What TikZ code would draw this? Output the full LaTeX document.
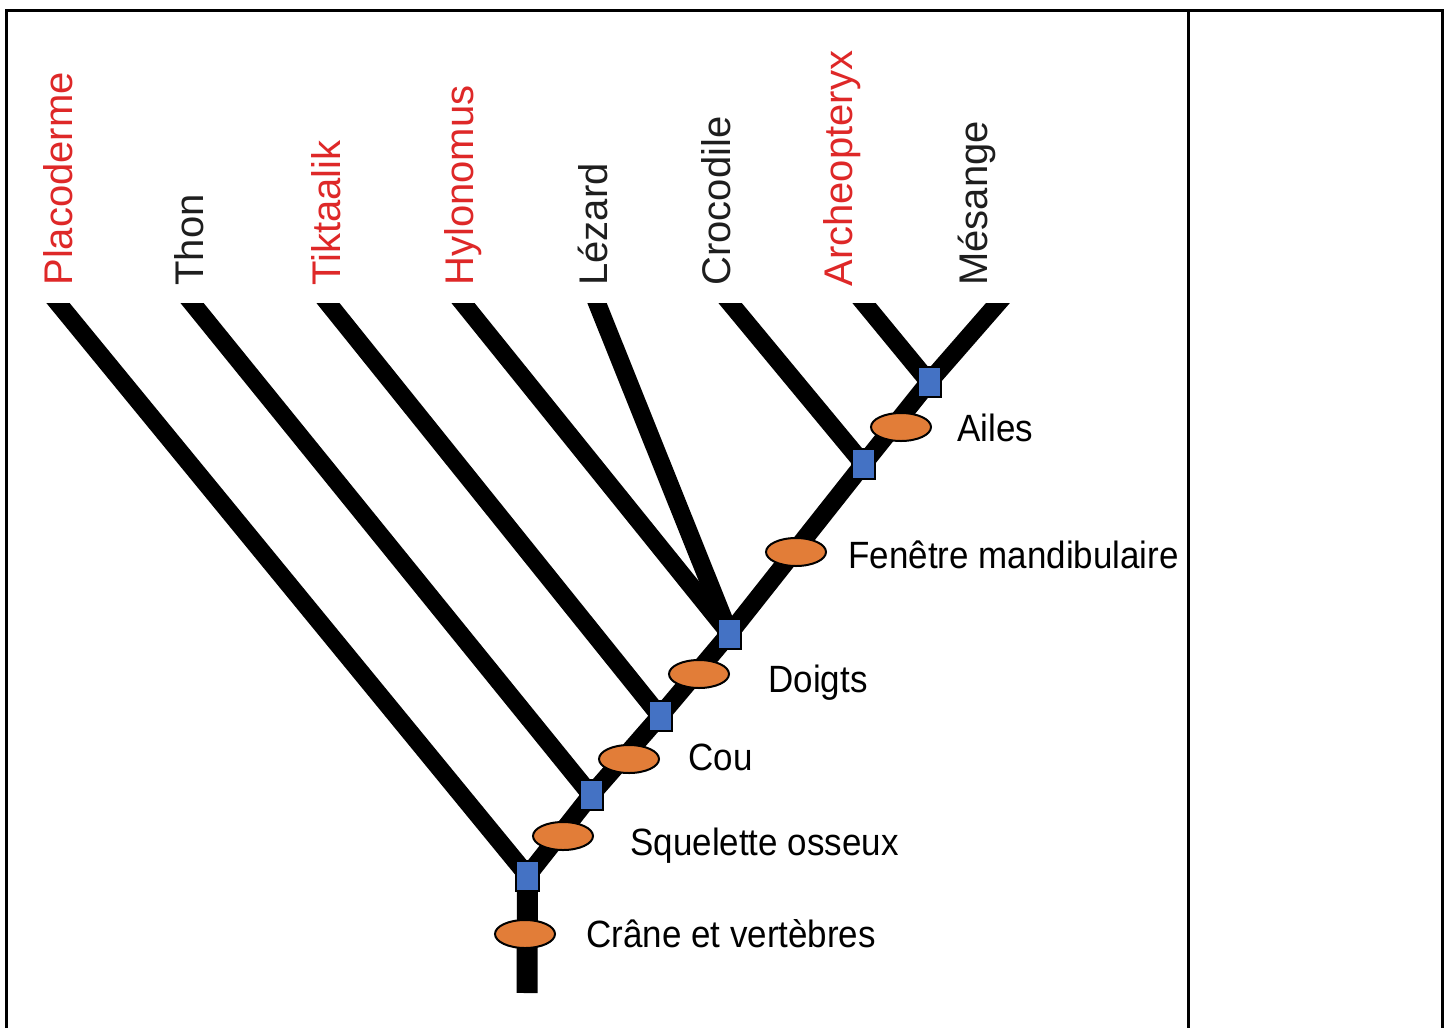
\documentclass[tikz,border=0pt]{standalone}
\usepackage{fontspec}
\setmainfont{Liberation Sans}
\newfontfamily\charfont[FakeStretch=0.92]{Liberation Sans}
\usetikzlibrary{shapes.geometric,backgrounds}
\definecolor{taxred}{RGB}{222,40,40}
\definecolor{taxblack}{RGB}{30,30,30}
\definecolor{nodeblue}{RGB}{68,114,196}
\definecolor{charorange}{RGB}{226,125,56}
\begin{document}
\begin{tikzpicture}[x=0.5pt,y=-0.5pt,
  frame/.style={line width=1.5pt,black},
  branch/.style={line width=9pt,black},
  stem/.style={line width=10.5pt,black},
  nodebox/.style={rectangle,draw=black,line width=1pt,fill=nodeblue,minimum width=11.5pt,minimum height=15pt,inner sep=0pt},
  charell/.style={ellipse,draw=black,line width=1pt,fill=charorange,minimum width=30pt,minimum height=14pt,inner sep=0pt},
  taxon/.style={rotate=90,anchor=base west,inner sep=0pt,font=\fontsize{20pt}{24pt}\selectfont},
  redtaxon/.style={taxon,text=taxred},
  blacktaxon/.style={taxon,text=taxblack},
  charlab/.style={anchor=base west,inner sep=0pt,text=black,font=\charfont\fontsize{19pt}{23pt}\selectfont}
]
\useasboundingbox (0,0) rectangle (1450,1028);

% taxon labels
\node[redtaxon]   (lPlac) at (72,286)  {Placoderme};
\node[blacktaxon] (lThon) at (203,286) {Thon};
\node[redtaxon]   (lTikt) at (340,286) {Tiktaalik};
\node[redtaxon]   (lHylo) at (473,286) {Hylonomus};
\node[blacktaxon] (lLez)  at (607,286) {Lézard};
\node[blacktaxon] (lCroc) at (730,286) {Crocodile};
\node[redtaxon]   (lArch) at (852,287) {Archeopteryx};
\node[blacktaxon] (lMes)  at (987,286) {Mésange};

% branch tops (clipped at y=303) and root
\coordinate (tPlac) at (47.3,290);
\coordinate (tThon) at (181.5,290);
\coordinate (tTikt) at (317.5,290);
\coordinate (tHylo) at (452.5,290);
\coordinate (tLez)  at (591.8,290);
\coordinate (tCroc) at (719.3,290);
\coordinate (tArch) at (853.3,290);
\coordinate (tMes)  at (1009.3,290);
\coordinate (root)  at (527,993);

% ellipses (characters)
\node[charell] (e1) at (525,934) {};
\node[charell] (e2) at (563,836) {};
\node[charell] (e3) at (629,759) {};
\node[charell] (e4) at (699,674) {};
\node[charell] (e5) at (796,552) {};
\node[charell] (e6) at (901,427) {};

% nodes (squares)
\node[nodebox] (n1) at (527.5,875.5) {};
\node[nodebox] (n2) at (591,795) {};
\node[nodebox] (n3) at (660,716) {};
\node[nodebox] (n4) at (729.5,633.5) {};
\node[nodebox] (n5) at (863.5,464) {};
\node[nodebox] (n6) at (929,382) {};

% character labels
\node[charlab] (c1) at (586,947) {Crâne et vertèbres};
\node[charlab] (c2) at (630,855) {Squelette osseux};
\node[charlab] (c3) at (688,770) {Cou};
\node[charlab] (c4) at (768,692) {Doigts};
\node[charlab] (c5) at (848,568) {Fenêtre mandibulaire};
\node[charlab] (c6) at (957,441) {Ailes};

\begin{pgfonlayer}{background}
  \draw[frame] (6,1028) -- (6,10) -- (1442,10) -- (1442,1028);
  \draw[frame] (1188,10) -- (1188,1028);
  \begin{scope}
    \clip (0,303) rectangle (1450,1028);
    \draw[stem] (root) -- (n1.center);
    \draw[branch,line join=round] (n1.center) -- (n2.center) -- (n3.center) -- (n4.center) -- (n5.center) -- (n6.center) -- (tMes);
    \draw[branch] (n1.center) -- (tPlac);
    \draw[branch] (n2.center) -- (tThon);
    \draw[branch] (n3.center) -- (tTikt);
    \draw[branch] (n4.center) -- (tHylo);
    \draw[branch] (n4.center) -- (tLez);
    \draw[branch] (n5.center) -- (tCroc);
    \draw[branch] (n6.center) -- (tArch);
  \end{scope}
\end{pgfonlayer}
\end{tikzpicture}
\end{document}
